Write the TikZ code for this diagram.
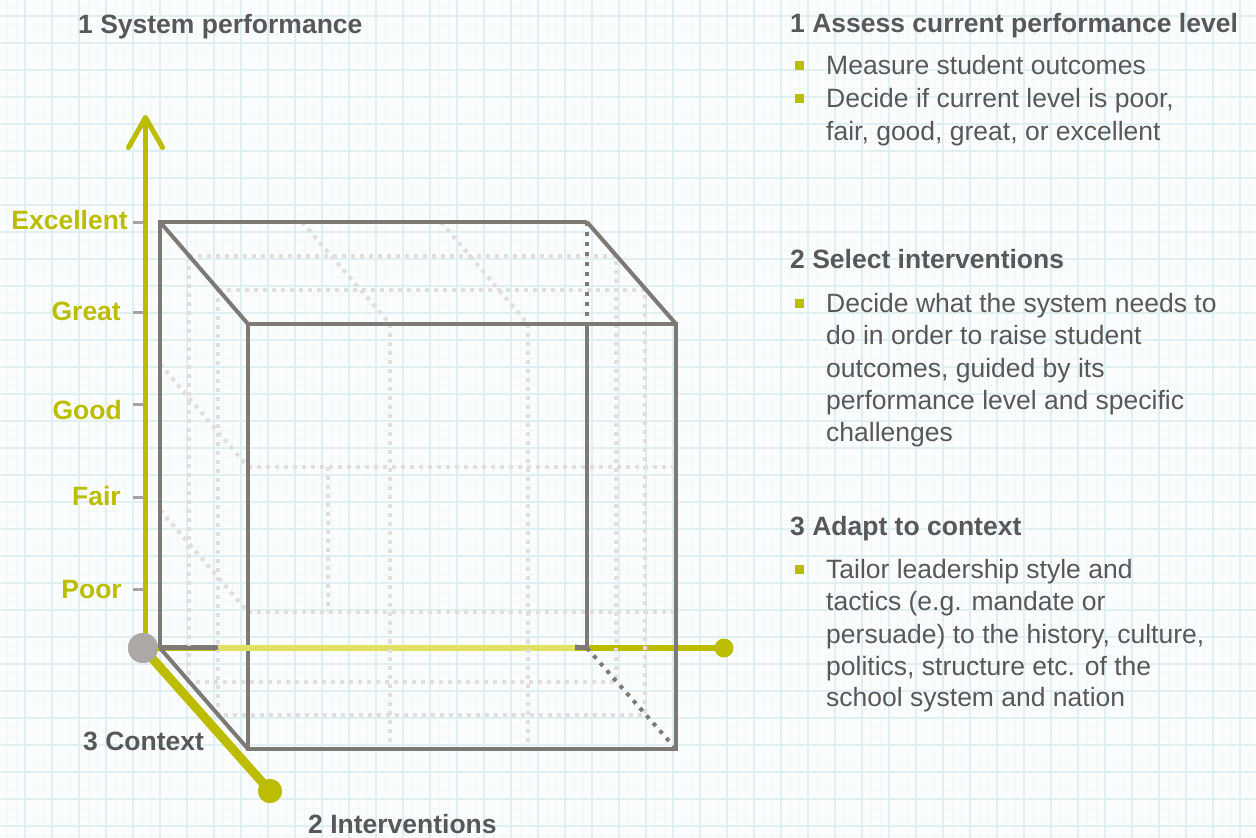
\documentclass[tikz,border=0pt]{standalone}
\usepackage{fontspec}
\setmainfont{Liberation Sans}
\usetikzlibrary{arrows.meta}
\definecolor{ydark}{RGB}{188,189,0}
\definecolor{ylight}{RGB}{226,224,98}
\definecolor{ybul}{RGB}{184,190,0}
\definecolor{cgray}{RGB}{125,121,117}
\definecolor{ogray}{RGB}{171,168,165}
\definecolor{dgray}{RGB}{226,222,222}
\definecolor{tkgray}{RGB}{165,162,160}
\definecolor{tgray}{RGB}{88,88,90}
\definecolor{bgc}{RGB}{251,253,253}
\definecolor{gmin}{RGB}{242,248,249}
\definecolor{gmaj}{RGB}{224,239,242}
\begin{document}
\begin{tikzpicture}[x=1pt,y=-1pt,
  lbl/.style={font=\fontsize{26.5pt}{32pt}\selectfont\bfseries, text=ydark, inner sep=0pt, anchor=base east},
  head/.style={font=\fontsize{26.5pt}{32pt}\selectfont\bfseries, text=tgray, inner sep=0pt, anchor=base west},
  body/.style={font=\fontsize{26.5pt}{32pt}\selectfont, text=tgray, inner sep=0pt, anchor=base west},
  bul/.style={fill=ybul, minimum size=9pt, inner sep=0pt},
  solidedge/.style={draw=cgray, line width=4pt},
  lightdot/.style={draw=dgray, line width=4pt, dash pattern=on 4pt off 5pt},
  darkdot/.style={draw=cgray, line width=4pt, dash pattern=on 4pt off 6pt},
  tickmark/.style={draw=tkgray, line width=3pt},
  axis/.style={draw=ydark},
  enddot/.style={circle, fill=ydark, inner sep=0pt},
]
\useasboundingbox (0,0) rectangle (1256,838);
% background grid
\fill[bgc] (0,0) rectangle (1256,838);
\foreach \x in {7,16,...,1256} \draw[gmin, line width=1pt] (\x,0) -- (\x,838);
\foreach \y in {7,16,...,838} \draw[gmin, line width=1pt] (0,\y) -- (1256,\y);
\foreach \x in {-2,25,...,1256} \draw[gmaj, line width=1.5pt] (\x,0) -- (\x,838);
\foreach \y in {16,43,...,838} \draw[gmaj, line width=1.5pt] (0,\y) -- (1256,\y);

% cube corners
\coordinate (B1) at (160,222);
\coordinate (B2) at (587,222);
\coordinate (B3) at (587,648);
\coordinate (B4) at (160,648);
\coordinate (F1) at (248,324);
\coordinate (F2) at (676,324);
\coordinate (F3) at (676,749);
\coordinate (F4) at (248,749);

% axis nodes
\node[circle, fill=ogray, minimum size=30pt, inner sep=0pt] (O) at (143,648) {};
\node[enddot, minimum size=19pt] (X) at (724,648) {};
\node[enddot, minimum size=24pt] (Z) at (270,791) {};
\coordinate (Ytip) at (145.5,115);

% ticks
\draw[tickmark] (133,222) -- (145,222);
\draw[tickmark] (133,312) -- (145,312);
\draw[tickmark] (133,404) -- (145,404);
\draw[tickmark] (133,497) -- (145,497);
\draw[tickmark] (133,589) -- (145,589);

% horizontal axis
\draw[axis, line width=6pt] (O.center) -- (X.center);
\draw[solidedge] (160,646.5) -- (587,646.5);
\draw[draw=ylight, line width=6pt] (218,648) -- (575,648);

% light dotted inner lines
\draw[lightdot] (189,256) -- (616,256) -- (616,682) -- (189,682) -- cycle;
\draw[lightdot] (218,290) -- (645,290) -- (645,715) -- (218,715) -- cycle;
\draw[lightdot] (248,467) -- (676,467);
\draw[lightdot] (248,612) -- (676,612);
\draw[lightdot] (390,324) -- (390,749);
\draw[lightdot] (528,324) -- (528,749);
\draw[lightdot] (328,467) -- (328,612);
\draw[lightdot] (302,222) -- (390,324);
\draw[lightdot] (441,222) -- (528,324);
\draw[lightdot] (160,364) -- (248,467);
\draw[lightdot] (160,510) -- (248,612);

% cube solid edges
\draw[solidedge] (B3) -- (B4);
\draw[solidedge, line join=miter] (B4) -- (B1) -- (B2);
\draw[solidedge] (B1) -- (F1);
\draw[solidedge] (B2) -- (F2);
\draw[solidedge] (B4) -- (F4);
\draw[solidedge] (587,324) -- (B3);
\draw[solidedge] (575,646.5) -- (B3);
\draw[solidedge, line join=miter] (F1) -- (F2) -- (F3) -- (F4) -- cycle;
\draw[darkdot] (B2) -- (587,324);
\draw[darkdot] (B3) -- (F3);
\draw[draw=ylight, line width=6pt] (218,648) -- (575,648);
\draw[lightdot] (390,640) -- (390,656);
\draw[lightdot] (528,640) -- (528,656);

% vertical and depth axes
\draw[axis, line width=5pt, -{Straight Barb[length=30pt,width=34pt,line cap=round,line join=round]}] (O.center -| Ytip) -- (Ytip);
\draw[axis, line width=9pt] (O.center) -- (Z.center);
\node[enddot, minimum size=24pt] at (Z) {};
\node[circle, fill=ogray, minimum size=30pt, inner sep=0pt] at (O) {};

% axis labels
\node[lbl] (lE) at (128,229) {Excellent};
\node[lbl] (lG) at (121,320) {Great};
\node[lbl] (lGd) at (122,419) {Good};
\node[lbl] (lF) at (121,505) {Fair};
\node[lbl] (lP) at (122,598) {Poor};

\node[head] (tSys) at (78,33) {1 System performance};
\node[head] (tCon) at (83,750) {3 Context};
\node[head] (tInt) at (308,833) {2 Interventions};

% right column
\node[head] (h1) at (790,32) {1 Assess current performance level};
\node[bul] (b11) at (799,65) {};
\node[body] (t11) at (826,74) {Measure student outcomes};
\node[bul] (b12) at (799,98) {};
\node[body] (t12) at (826,107) {Decide if current level is poor,};
\node[body] (t13) at (826,140) {fair, good, great, or excellent};

\node[head] (h2) at (790,268) {2 Select interventions};
\node[bul] (b21) at (799,303) {};
\node[body] (t21) at (826,312) {Decide what the system needs to};
\node[body] (t22) at (826,344) {do in order to raise student};
\node[body] (t23) at (826,377) {outcomes, guided by its};
\node[body] (t24) at (826,409) {performance level and specific};
\node[body] (t25) at (826,441) {challenges};

\node[head] (h3) at (790,535) {3 Adapt to context};
\node[bul] (b31) at (799,569) {};
\node[body] (t31) at (826,578) {Tailor leadership style and};
\node[body] (t32) at (826,610) {tactics (e.g. mandate or};
\node[body] (t33) at (826,643) {persuade) to the history, culture,};
\node[body] (t34) at (826,675) {politics, structure etc. of the};
\node[body] (t35) at (826,706) {school system and nation};
\end{tikzpicture}
\end{document}
